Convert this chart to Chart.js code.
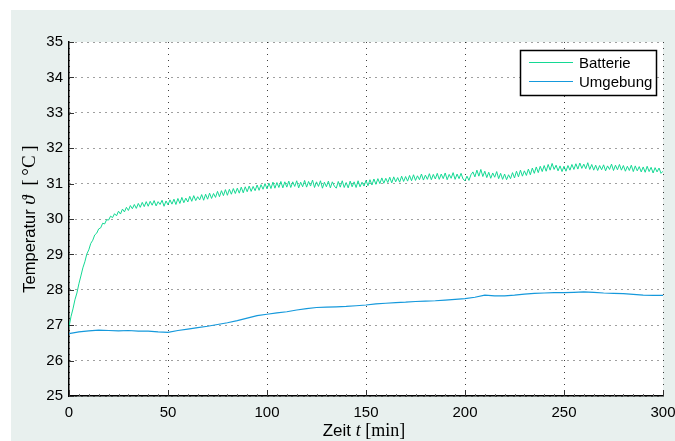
<!DOCTYPE html>
<html><head><meta charset="utf-8">
<script src="https://cdn.jsdelivr.net/npm/chart.js@4/dist/chart.umd.min.js"></script>
<style>html,body{margin:0;padding:0;background:#fff;}canvas{display:block}</style>
</head><body>
<canvas id="c" width="675" height="441"></canvas>
<script>
// ---- data ----
const X_TICKS = [0, 50, 100, 150, 200, 250, 300];
const Y_TICKS = [25, 26, 27, 28, 29, 30, 31, 32, 33, 34, 35];
const SERIES_NAMES = ['Batterie', 'Umgebung'];
const SERIES_COLORS = ['#14d994', '#1599dc'];

// Batterie: one sample per minute, t = 0 .. 300 min
const BATT_START = 0, BATT_STEP = 1;
const batterie = [
  26.95, 27.24, 27.46, 27.72, 27.91, 28.17, 28.39, 28.62, 28.79, 29.01,
  29.13, 29.31, 29.40, 29.55, 29.60, 29.72, 29.75, 29.88, 29.86, 29.98,
  29.97, 30.08, 30.04, 30.15, 30.09, 30.22, 30.14, 30.28, 30.20, 30.33,
  30.24, 30.38, 30.29, 30.41, 30.30, 30.44, 30.33, 30.47, 30.35, 30.49,
  30.36, 30.50, 30.39, 30.52, 30.37, 30.49, 30.41, 30.53, 30.36, 30.51,
  30.40, 30.54, 30.42, 30.56, 30.41, 30.58, 30.44, 30.61, 30.46, 30.59,
  30.48, 30.64, 30.50, 30.66, 30.52, 30.63, 30.54, 30.69, 30.53, 30.70,
  30.56, 30.73, 30.58, 30.72, 30.61, 30.78, 30.63, 30.80, 30.66, 30.83,
  30.67, 30.84, 30.70, 30.86, 30.72, 30.87, 30.73, 30.90, 30.74, 30.91,
  30.77, 30.93, 30.78, 30.92, 30.80, 30.96, 30.81, 30.97, 30.84, 31.00,
  30.85, 31.01, 30.86, 31.04, 30.87, 31.03, 30.89, 31.06, 30.88, 31.05,
  30.90, 31.07, 30.89, 31.05, 30.92, 31.08, 30.88, 31.04, 30.91, 31.09,
  30.90, 31.06, 30.93, 31.10, 30.89, 31.05, 30.92, 31.08, 30.87, 31.04,
  30.91, 31.07, 30.88, 31.05, 30.93, 30.87, 31.06, 30.90, 31.08, 30.89,
  31.03, 30.88, 31.07, 30.91, 31.05, 30.89, 31.08, 30.91, 31.04, 30.93,
  31.09, 30.94, 31.11, 30.96, 31.13, 30.98, 31.14, 31.00, 31.16, 31.01,
  31.15, 31.03, 31.18, 31.02, 31.19, 31.05, 31.17, 31.04, 31.21, 31.06,
  31.20, 31.07, 31.23, 31.08, 31.25, 31.09, 31.22, 31.11, 31.27, 31.10,
  31.24, 31.12, 31.28, 31.11, 31.26, 31.13, 31.29, 31.12, 31.27, 31.14,
  31.30, 31.11, 31.26, 31.15, 31.31, 31.12, 31.27, 31.14, 31.29, 31.13,
  31.08, 31.21, 31.09, 31.25, 31.33, 31.19, 31.38, 31.21, 31.40, 31.20,
  31.35, 31.17, 31.32, 31.15, 31.30, 31.18, 31.34, 31.14, 31.29, 31.12,
  31.27, 31.11, 31.25, 31.14, 31.31, 31.16, 31.35, 31.19, 31.38, 31.21,
  31.36, 31.23, 31.41, 31.25, 31.44, 31.29, 31.47, 31.31, 31.49, 31.34,
  31.51, 31.35, 31.54, 31.38, 31.57, 31.40, 31.52, 31.36, 31.50, 31.34,
  31.49, 31.35, 31.51, 31.38, 31.54, 31.40, 31.56, 31.41, 31.58, 31.43,
  31.55, 31.42, 31.59, 31.40, 31.54, 31.38, 31.52, 31.37, 31.51, 31.39,
  31.53, 31.36, 31.50, 31.40, 31.55, 31.37, 31.52, 31.39, 31.54, 31.38,
  31.51, 31.35, 31.49, 31.37, 31.52, 31.34, 31.50, 31.36, 31.48, 31.33,
  31.47, 31.32, 31.49, 31.34, 31.46, 31.30, 31.45, 31.33, 31.44, 31.29,
  31.35
];

// Umgebung: one sample every 5 minutes, t = 0 .. 300 min
const UMG_START = 0, UMG_STEP = 5;
const umgebung = [
  26.76, 26.81, 26.84, 26.86, 26.85, 26.84, 26.85, 26.83, 26.83, 26.81,
  26.80, 26.85, 26.89, 26.93, 26.97, 27.02, 27.07, 27.13, 27.20, 27.27,
  27.31, 27.35, 27.38, 27.43, 27.47, 27.50, 27.51, 27.52, 27.53, 27.55,
  27.57, 27.60, 27.62, 27.64, 27.65, 27.67, 27.68, 27.69, 27.71, 27.73,
  27.75, 27.79, 27.85, 27.83, 27.83, 27.85, 27.88, 27.90, 27.91, 27.92,
  27.92, 27.93, 27.94, 27.93, 27.91, 27.90, 27.89, 27.87, 27.85, 27.84,
  27.84
];

function toPoints(vals, start, step) {
  return vals.map((v, i) => ({ x: start + i * step, y: v }));
}

const FONT = "'Liberation Sans', Arial, sans-serif";
const SERIF = "'Liberation Serif', 'DejaVu Serif', serif";

const bgPlugin = {
  id: 'bg',
  beforeDraw(chart) {
    const { ctx, chartArea: a } = chart;
    ctx.save();
    ctx.fillStyle = '#ffffff';
    ctx.fillRect(0, 0, chart.width, chart.height);
    ctx.fillStyle = '#e8f0ee';
    ctx.fillRect(11, 10, chart.width - 11, chart.height - 10);
    ctx.fillStyle = '#ffffff';
    ctx.fillRect(a.left, a.top, a.right - a.left, a.bottom - a.top);
    ctx.restore();
  }
};

const decoPlugin = {
  id: 'deco',
  afterDraw(chart) {
    const { ctx, chartArea: a, scales } = chart;
    ctx.save();
    // inward major ticks
    ctx.strokeStyle = '#333';
    ctx.lineWidth = 1;
    ctx.beginPath();
    Y_TICKS.forEach(v => {
      const y = Math.round(scales.y.getPixelForValue(v)) + 0.5;
      ctx.moveTo(a.left, y); ctx.lineTo(a.left + 5, y);
    });
    X_TICKS.forEach(v => {
      const x = Math.round(scales.x.getPixelForValue(v)) + 0.5;
      ctx.moveTo(x, a.bottom); ctx.lineTo(x, a.bottom - 6);
    });
    ctx.stroke();
    // minor x ticks
    ctx.strokeStyle = '#666';
    ctx.beginPath();
    for (let i = 0; i < X_TICKS.length - 1; i++) {
      const span = X_TICKS[i + 1] - X_TICKS[i];
      for (let k = 1; k < 10; k++) {
        const x = Math.round(scales.x.getPixelForValue(X_TICKS[i] + span * k / 10)) + 0.5;
        ctx.moveTo(x, a.bottom); ctx.lineTo(x, a.bottom - 2);
      }
    }
    ctx.stroke();

    // legend
    const lx = 520, ly = 50, lw = 136, lh = 45;
    ctx.fillStyle = '#fff';
    ctx.fillRect(lx, ly, lw, lh);
    ctx.strokeStyle = '#000';
    ctx.lineWidth = 1.5;
    ctx.strokeRect(lx + 0.5, ly + 0.5, lw, lh);
    ctx.font = '15px ' + FONT;
    ctx.textBaseline = 'middle';
    ctx.textAlign = 'left';
    const rows = [62.5, 81.5];
    SERIES_NAMES.forEach((name, i) => {
      ctx.strokeStyle = SERIES_COLORS[i];
      ctx.lineWidth = 1;
      ctx.beginPath();
      ctx.moveTo(529, rows[i]); ctx.lineTo(573, rows[i]);
      ctx.stroke();
      ctx.fillStyle = '#000';
      ctx.fillText(name, 579, rows[i] + 1);
    });

    // axis titles with mixed fonts
    const drawParts = (parts, cx, cy) => {
      let total = 0;
      parts.forEach(p => { ctx.font = p.f; p.w = ctx.measureText(p.t).width; total += p.w; });
      let x = cx - total / 2;
      ctx.textAlign = 'left';
      ctx.textBaseline = 'alphabetic';
      ctx.fillStyle = '#000';
      parts.forEach(p => { ctx.font = p.f; ctx.fillText(p.t, x, cy); x += p.w; });
    };
    drawParts([
      { t: 'Zeit ', f: '17px ' + FONT },
      { t: 't', f: 'italic 18px ' + SERIF },
      { t: ' [min]', f: '18px ' + SERIF }
    ], 364, 436);
    ctx.save();
    ctx.translate(35, 219);
    ctx.rotate(-Math.PI / 2);
    drawParts([
      { t: 'Temperatur ', f: '16.5px ' + FONT },
      { t: 'ϑ', f: 'italic 19px ' + SERIF },
      { t: '  [\u2009°C\u2009]', f: '19px ' + SERIF }
    ], 0, 0);
    ctx.restore();
    ctx.restore();
  }
};

new Chart(document.getElementById('c'), {
  type: 'line',
  data: {
    datasets: [
      { label: SERIES_NAMES[0], data: toPoints(batterie, BATT_START, BATT_STEP),
        borderColor: SERIES_COLORS[0], borderWidth: 1, pointRadius: 0, tension: 0, fill: false },
      { label: SERIES_NAMES[1], data: toPoints(umgebung, UMG_START, UMG_STEP),
        borderColor: SERIES_COLORS[1], borderWidth: 1.2, pointRadius: 0, tension: 0, fill: false }
    ]
  },
  options: {
    responsive: false,
    animation: false,
    layout: { padding: { left: 0, right: 12, top: 42, bottom: 0 } },
    plugins: { legend: { display: false }, tooltip: { enabled: false } },
    scales: {
      x: {
        type: 'linear', min: 0, max: 300,
        afterFit(s) { s.height = 45; s.paddingLeft = 0; s.paddingRight = 0; },
        afterBuildTicks(s) { s.ticks = X_TICKS.map(v => ({ value: v })); },
        ticks: { padding: 8, color: '#000', font: { family: FONT, size: 15 }, maxRotation: 0 },
        grid: { color: 'rgba(0,0,0,0.75)', lineWidth: 1, drawTicks: false },
        border: { display: true, color: '#000', width: 1.5, dash: [1, 5] }
      },
      y: {
        type: 'linear', min: 25, max: 35,
        afterFit(s) { s.width = 69; s.paddingTop = 0; s.paddingBottom = 0; },
        afterBuildTicks(s) { s.ticks = Y_TICKS.map(v => ({ value: v })); },
        ticks: { padding: 6, color: '#000', font: { family: FONT, size: 15 } },
        grid: { color: 'rgba(0,0,0,0.75)', lineWidth: 1, drawTicks: false },
        border: { display: true, color: '#000', width: 1.5, dash: [1, 5] }
      }
    }
  },
  plugins: [bgPlugin, decoPlugin]
});
</script>
</body></html>
